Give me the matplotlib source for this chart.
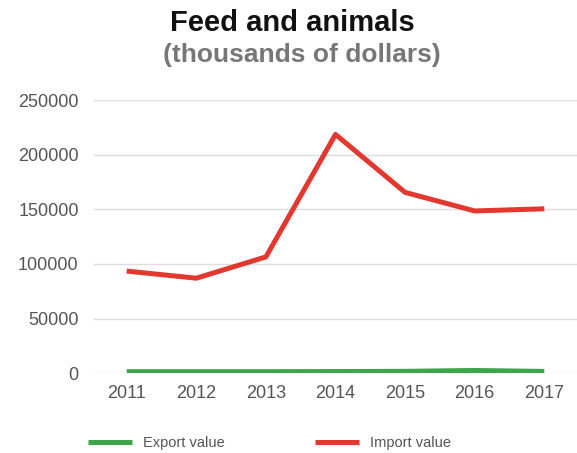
import matplotlib

matplotlib.use("Agg")
import matplotlib.pyplot as plt

years = [2011, 2012, 2013, 2014, 2015, 2016, 2017]
export_value = [1500, 1500, 1500, 1600, 1800, 2600, 1700]
import_value = [93500, 87000, 106500, 218500, 165500, 148500, 150500]
y_ticks = [0, 50000, 100000, 150000, 200000, 250000]

plt.rcParams["font.family"] = ["Liberation Sans", "DejaVu Sans"]

fig = plt.figure(figsize=(5.77, 4.53), dpi=100)
ax = fig.add_axes([94 / 577, 1 - 373.3 / 453, 483 / 577, 273.3 / 453])

ax.plot(years, export_value, color="#3da64a", linewidth=3.6, solid_capstyle="butt",
        label="Export value", zorder=3)
ax.plot(years, import_value, color="#e2382f", linewidth=3.6, solid_capstyle="butt",
        label="Import value", zorder=3)

ax.set_xlim(2010.53, 2017.47)
ax.set_ylim(0, 250000)
ax.set_yticks(y_ticks)
ax.set_xticks(years)
ax.set_yticklabels([str(v) for v in y_ticks])
ax.grid(axis="y", color="#dddddd", linewidth=1)
ax.set_axisbelow(True)
for side in ("top", "right", "left", "bottom"):
    ax.spines[side].set_visible(False)
ax.tick_params(axis="both", length=0, colors="#555555")
ax.tick_params(axis="y", labelsize=13, pad=11)
ax.tick_params(axis="x", labelsize=13, pad=8.5)

fig.text(0.507, 0.949, "Feed and animals", ha="center", va="center",
         fontsize=21, fontweight="bold", color="#111111")
fig.text(0.5225, 0.878, "(thousands of dollars)", ha="center", va="center",
         fontsize=19, fontweight="bold", color="#777777")

leg = fig.legend(loc="center left", bbox_to_anchor=(88 / 577, 1 - 443 / 453), ncol=2,
                 frameon=False, fontsize=10.5, handlelength=3.0, handletextpad=0.75,
                 columnspacing=6.2, borderpad=0, borderaxespad=0,
                 labelcolor="#555555")
for line in leg.get_lines():
    line.set_linewidth(3.6)

fig.savefig("out.png", dpi=100)
